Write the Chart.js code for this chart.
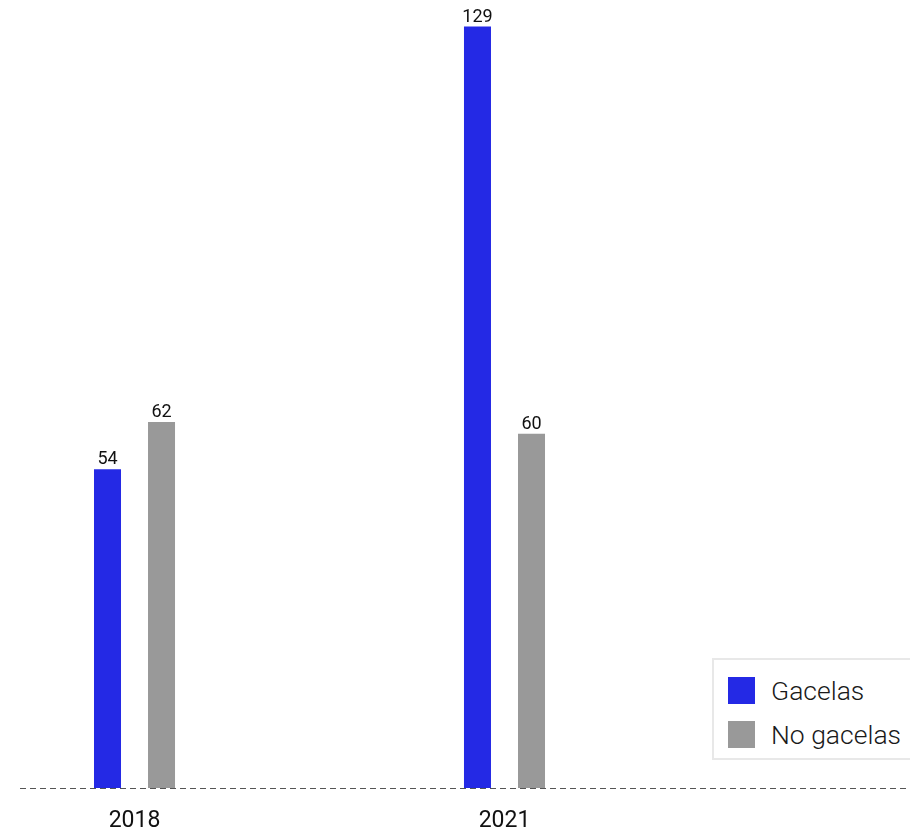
<!DOCTYPE html>
<html>
<head>
<meta charset="utf-8">
<script src="https://cdn.jsdelivr.net/npm/chart.js@4"></script>
<style>
  html,body{margin:0;padding:0;background:#fff;}
  #wrap{position:relative;width:910px;height:832px;overflow:hidden;}
  #legend{position:absolute;left:712px;top:658px;width:220px;height:98px;border:2px solid #e8e8e8;background:#fff;
    font-family:Roboto,sans-serif;font-weight:300;font-size:26.5px;color:#1a1a1a;}
  .item{position:absolute;left:14px;display:flex;align-items:center;}
  .sw{width:27px;height:27px;margin-right:16px;}
</style>
</head>
<body>
<div id="wrap">
  <canvas id="c"></canvas>
  <div id="legend"></div>
</div>
<script>
// ── data ───────────────────────────────────────────────────────────────
const YEARS    = ['2018','2021'];
const GACELAS  = [54,129];
const NO_GAC   = [62,60];
const SERIES   = ['Gacelas','No gacelas'];
const COLORS   = ['#2429e5','#999999'];

// dashed zero line across the plot + value labels above each bar
const barLabels={
  id:'barLabels',
  afterDatasetsDraw(chart){
    const ctx=chart.ctx, x=chart.scales.x, y=chart.scales.y;
    const y0=Math.round(y.getPixelForValue(0))+0.5;
    ctx.save();
    ctx.strokeStyle='#555';
    ctx.lineWidth=1;
    ctx.setLineDash([6,4]);
    ctx.beginPath();
    ctx.moveTo(x.left,y0);
    ctx.lineTo(x.right,y0);
    ctx.stroke();
    ctx.setLineDash([]);
    ctx.font='18px Roboto, sans-serif';
    ctx.fillStyle='#111';
    ctx.textAlign='center';
    ctx.textBaseline='alphabetic';
    chart.data.datasets.forEach((ds,i)=>{
      chart.getDatasetMeta(i).data.forEach((el,j)=>{
        ctx.fillText(ds.data[j].y, el.x, el.y-5);
      });
    });
    ctx.restore();
  }
};

const toPts=arr=>arr.map((v,i)=>({x:i,y:v}));

new Chart(document.getElementById('c'),{
  type:'bar',
  data:{datasets:[
    {label:SERIES[0],data:toPts(GACELAS),backgroundColor:COLORS[0],barPercentage:0.5,categoryPercentage:0.292},
    {label:SERIES[1],data:toPts(NO_GAC), backgroundColor:COLORS[1],barPercentage:0.5,categoryPercentage:0.292}
  ]},
  options:{
    responsive:true,maintainAspectRatio:false,animation:false,
    layout:{padding:{left:20,right:0,top:0,bottom:0}},
    plugins:{legend:{display:false},tooltip:{enabled:false}},
    scales:{
      x:{type:'linear',offset:false,min:-0.3095,max:2.096,
        afterBuildTicks:s=>{s.ticks=YEARS.map((_,i)=>({value:i}));},
        afterFit:s=>{s.height=44;},
        grid:{display:false,drawTicks:false},
        border:{display:false},
        ticks:{autoSkip:false,maxRotation:0,padding:19,color:'#111',font:{family:'Roboto',size:23},
          callback:v=>YEARS[v]}
      },
      y:{display:false,min:0,max:133.5}
    }
  },
  plugins:[barLabels]
});

// html legend
document.getElementById('legend').innerHTML=SERIES.map((s,i)=>
  `<div class="item" style="top:${15+i*44}px"><div class="sw" style="background:${COLORS[i]}"></div>${s}</div>`).join('');
</script>
</body>
</html>
